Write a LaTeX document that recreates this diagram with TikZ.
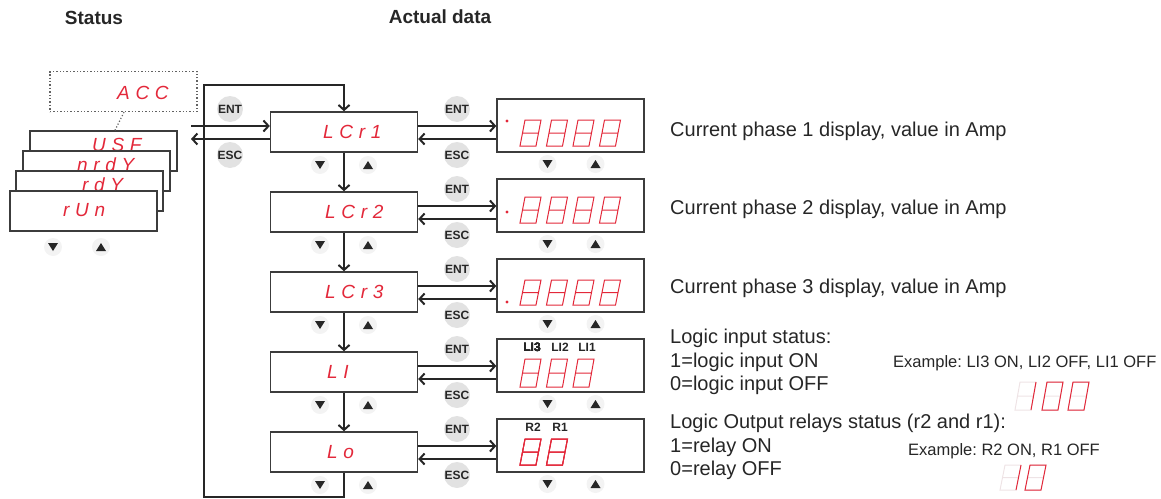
\documentclass[tikz,border=0pt]{standalone}
\usepackage{fontspec}
\setmainfont{Liberation Sans}
\newfontfamily\segfont[LetterSpace=30]{Liberation Sans}
\usepackage{tikz}
\usetikzlibrary{arrows.meta}
\frenchspacing
\definecolor{frame}{HTML}{3C3C3C}
\definecolor{ink}{HTML}{262626}
\definecolor{seg}{HTML}{E3283A}
\definecolor{ghost}{HTML}{EEE3E5}
\definecolor{keybg}{HTML}{E2E2E2}
\definecolor{padbg}{HTML}{F3F3F3}
\tikzset{
  box/.style={draw=frame, line width=1.4pt, fill=white, minimum width=147pt,
    minimum height=40pt, inner sep=0pt},
  dispbox/.style={box, minimum height=53pt},
  dotbox/.style={box, draw=frame!80, dotted, line width=1.2pt, fill=none},
  segtext/.style={font=\segfont\itshape\fontsize{19}{19}\selectfont, text=seg,
    inner sep=0pt, anchor=west},
  segline/.style={line width=1pt},
  flow/.style={draw=ink, line width=1.1pt,
    -{Straight Barb[length=5pt,width=11pt,line width=2pt]}},
  keylabel/.style={circle, fill=keybg, minimum size=26pt, inner sep=0pt,
    font=\bfseries\fontsize{12}{12}\selectfont, text=ink},
  head/.style={font=\bfseries\fontsize{19}{22}\selectfont, text=ink},
  desc/.style={font=\fontsize{20}{22}\selectfont, text=ink, anchor=west, inner sep=0pt},
  small/.style={font=\fontsize{16.5}{18}\selectfont, text=ink, anchor=west, inner sep=0pt},
  tag/.style={font=\bfseries\fontsize{12}{12}\selectfont, text=ink, inner sep=0pt}
}
% seven-segment digits, #2,#3: bottom-left corner, #4: height
\newcommand{\Eight}[4][seg]{%
  \draw[#1, segline] (#2+5,#3-#4) -- (#2+21,#3-#4) -- (#2+16,#3) -- (#2,#3) -- cycle
    (#2+2.5,#3-#4/2) -- (#2+18.5,#3-#4/2);
}
\newcommand{\Zero}[3]{%
  \Eight[ghost]{#1}{#2}{#3}
  \draw[seg, segline] (#1+5,#2-#3) -- (#1+21,#2-#3) -- (#1+16,#2) -- (#1,#2) -- cycle;
}
\newcommand{\One}[3]{%
  \Eight[ghost]{#1}{#2}{#3}
  \draw[seg, segline] (#1+21,#2-#3) -- (#1+16,#2);
}
% down/up keys, centre of the pair
\newcommand{\Keys}[2]{%
  \fill[padbg] (#1-24,#2) circle (9pt) (#1+24,#2) circle (9pt);
  \fill[ink] (#1-29,#2-4) -- (#1-19,#2-4) -- (#1-24,#2+4) -- cycle;
  \fill[ink] (#1+19,#2+4) -- (#1+29,#2+4) -- (#1+24,#2-4) -- cycle;
}

\begin{document}
\begin{tikzpicture}[x=1pt,y=-1pt]
  \useasboundingbox (0,0) rectangle (1161,498);
  \node[head] (hstatus) at (94,18) {Status};
  \node[head] (hdata) at (440,17) {Actual data};

  % status stack
  \node[dotbox] (acc) at (123.5,91.5) {};
  \node[segtext] (cacc) at (117,93) {ACC};
  \foreach \name/\code/\x/\y/\tx/\ty in {usf/USF/103.5/151/92/145, nrdy/nrdY/96.5/171/77/165,
      rdy/rdY/89.5/191/82/185, run/rUn/83.5/211/63/210} {
    \node[box] (\name) at (\x,\y) {};
    \node[segtext] (c\name) at (\tx,\ty) {\code};
  }
  \draw[frame!80, dotted, line width=1.2pt] ([xshift=0.5pt]acc.south) -- ([xshift=11.5pt]usf.north);
  \Keys{77}{247}

  % menu column and its displays
  \foreach \name/\code/\yc/\tx in {lcr1/LCr1/132/323, lcr2/LCr2/212/325,
      lcr3/LCr3/292/325, li/LI/372/327, lo/Lo/452/327} {
    \node[box] (\name) at (344,\yc) {};
    \node[segtext] (c\name) at (\tx,\yc) {\code};
    \node[dispbox] (d\name) at (570.5,\yc-6.5) {};
    \draw[flow] ([yshift=6pt]\name.east) -- ([yshift=6pt]\name.east -| d\name.west);
    \draw[flow] ([yshift=-7pt]\name.east -| d\name.west) -- ([yshift=-7pt]\name.east);
    \node[keylabel] (ent\name) at (457,\yc-23) {ENT};
    \node[keylabel] (esc\name) at (457,\yc+23) {ESC};
    \Keys{344}{\yc+33}
    \Keys{571.5}{\yc+32}
  }
  \foreach \a/\b in {lcr1/lcr2, lcr2/lcr3, lcr3/li, li/lo}
    \draw[flow] (\a.south) -- (\b.north);

  % way in and out, and the loop back to the top
  \coordinate (entin) at (191,126);
  \coordinate (escout) at (191,139);
  \coordinate (loopbl) at (204,497);
  \coordinate (looptl) at (204,85);
  \draw[flow] (entin) -- (entin -| lcr1.west);
  \draw[flow] (escout -| lcr1.west) -- (escout);
  \node[keylabel] (entin-l) at (230,109) {ENT};
  \node[keylabel] (escout-l) at (230,155) {ESC};
  \draw[flow] (lo.south) |- (loopbl) -- (looptl) -| (lcr1.north);

  % display contents
  \fill[seg] (507,121) circle (1.6pt);
  \fill[seg] (507,212) circle (1.6pt);
  \fill[seg] (507,302) circle (1.6pt);
  \foreach \k in {0,...,3} {
    \Eight{520+26.5*\k}{146}{26}
    \Eight{520+26.5*\k}{223}{26}
    \Eight{520+26.5*\k}{305}{25}
  }
  \foreach \k in {0,...,2}
    \Eight{520+26.5*\k}{387}{28}
  \foreach \k in {0,1}
    \Eight{520+26.5*\k}{465}{26}
  \node[tag] (li3) at (532,347) {LI3};
  \node[tag] (li2) at (560,347) {LI2};
  \node[tag] (li1) at (587,347) {LI1};
  \node[tag] (r2) at (533,427) {R2};
  \node[tag] (r1) at (560,427) {R1};

  % descriptions
  \node[desc] (t1) at (670,131) {Current phase 1 display, value in Amp};
  \node[desc] (t2) at (670,209) {Current phase 2 display, value in Amp};
  \node[desc] (t3) at (670,288) {Current phase 3 display, value in Amp};
  \node[desc] (t4) at (670,338) {Logic input status:};
  \node[desc] (t5) at (670,362) {1=logic input ON};
  \node[desc] (t6) at (670,385) {0=logic input OFF};
  \node[desc] (t7) at (670,423) {Logic Output relays status (r2 and r1):};
  \node[desc] (t8) at (670,447) {1=relay ON};
  \node[desc] (t9) at (670,470) {0=relay OFF};
  \node[small] (ex1) at (893,363) {Example: LI3 ON, LI2 OFF, LI1 OFF};
  \node[small] (ex2) at (908,451) {Example: R2 ON, R1 OFF};
  \One{1015}{410}{28}
  \Zero{1042}{410}{28}
  \Zero{1068}{410}{28}
  \One{1000}{490}{25}
  \Zero{1025}{490}{25}
\end{tikzpicture}
\end{document}
